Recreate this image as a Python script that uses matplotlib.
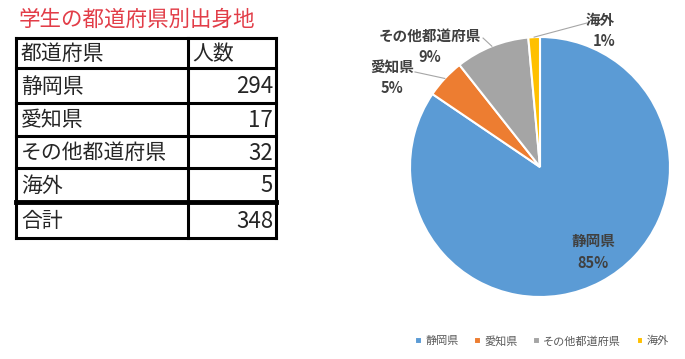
import numpy as np
import matplotlib
matplotlib.use("Agg")
import matplotlib.pyplot as plt

plt.rcParams['font.family'] = ['Noto Sans CJK JP', 'DejaVu Sans']

# data
title = "学生の都道府県別出身地"
header = ["都道府県", "人数"]
prefs = ["静岡県", "愛知県", "その他都道府県", "海外"]
counts = [294, 17, 32, 5]
colors = ["#5B9BD5", "#ED7D31", "#A5A5A5", "#FFC000"]

W, H = 685, 359
fig = plt.figure(figsize=(W / 100, H / 100), dpi=100)

# full-figure axes in pixel coordinates for the table
bg = fig.add_axes([0, 0, 1, 1])
bg.set_xlim(0, W)
bg.set_ylim(H, 0)
bg.axis("off")

bg.text(19, 20, title, color="#E23D48", fontsize=15.5, va="center", ha="left")

# table layout (pixels)
x_left, x_mid, x_right = 16, 188, 276
row_lines = [38, 68, 103, 136, 168, 202, 238]
rows = [header] + [[p, str(c)] for p, c in zip(prefs, counts)] + [["合計", str(sum(counts))]]

for i, (name, val) in enumerate(rows):
    yc = (row_lines[i] + row_lines[i + 1]) / 2 + 1
    bg.text(x_left + 5, yc, name, fontsize=15, va="center", ha="left", color="#262626")
    if i == 0:
        bg.text(x_mid + 4, yc, val, fontsize=15, va="center", ha="left", color="#262626")
    else:
        bg.text(x_right - 3, yc, val, fontsize=16, va="center", ha="right", color="#262626")

for j, y in enumerate(row_lines):
    lw = 3.5 if j == 5 else 2.2
    bg.plot([x_left, x_right], [y, y], color="black", lw=lw, solid_capstyle="projecting")
for x in (x_left, x_mid, x_right):
    bg.plot([x, x], [row_lines[0], row_lines[-1]], color="black", lw=2.2, solid_capstyle="projecting")

# pie chart
cx, cy, r = 540, 167, 130
ax = fig.add_axes([(cx - r) / W, (H - cy - r) / H, 2 * r / W, 2 * r / H])
wedges, _ = ax.pie(counts, colors=colors, startangle=90, counterclock=False, radius=1,
                   wedgeprops=dict(edgecolor="white", linewidth=1.5))
ax.set_xlim(-1, 1)
ax.set_ylim(-1, 1)
ax.axis("off")

# percentages rounded so they add up to 100 (largest remainder)
raw = np.array(counts) / sum(counts) * 100
pcts = np.floor(raw).astype(int)
for idx in np.argsort(-(raw - pcts))[:100 - pcts.sum()]:
    pcts[idx] += 1

# label placement in pie data coords: name, percent, leader end
name_pos = [(0.41, -0.57), (-1.135, 0.764), (-0.846, 1.010), (0.462, 1.131)]
pct_pos = [(0.41, -0.738), (-1.135, 0.605), (-0.846, 0.848), (0.49, 0.969)]
leader_end = [None, (-0.962, 0.731), (-0.438, 0.992), (0.362, 1.108)]

for k, (w, name, p) in enumerate(zip(wedges, prefs, pcts)):
    style = dict(ha="center", va="center", fontsize=10.5, fontweight="bold",
                 color="#404040", clip_on=False)
    ax.text(*name_pos[k], name, **style)
    ax.text(*pct_pos[k], f"{p}%", **style)
    if leader_end[k] is not None:
        mid = np.deg2rad((w.theta1 + w.theta2) / 2)
        ax.plot([np.cos(mid), leader_end[k][0]], [np.sin(mid), leader_end[k][1]],
                color="#A6A6A6", lw=0.8, clip_on=False)

fig.legend(wedges, prefs, loc="center", bbox_to_anchor=(542 / W, 1 - 341 / H),
           ncol=4, frameon=False, fontsize=8, handlelength=0.6, handleheight=0.6,
           handletextpad=0.3, columnspacing=1.4, labelcolor="#595959")

fig.savefig("out.png", dpi=100)
